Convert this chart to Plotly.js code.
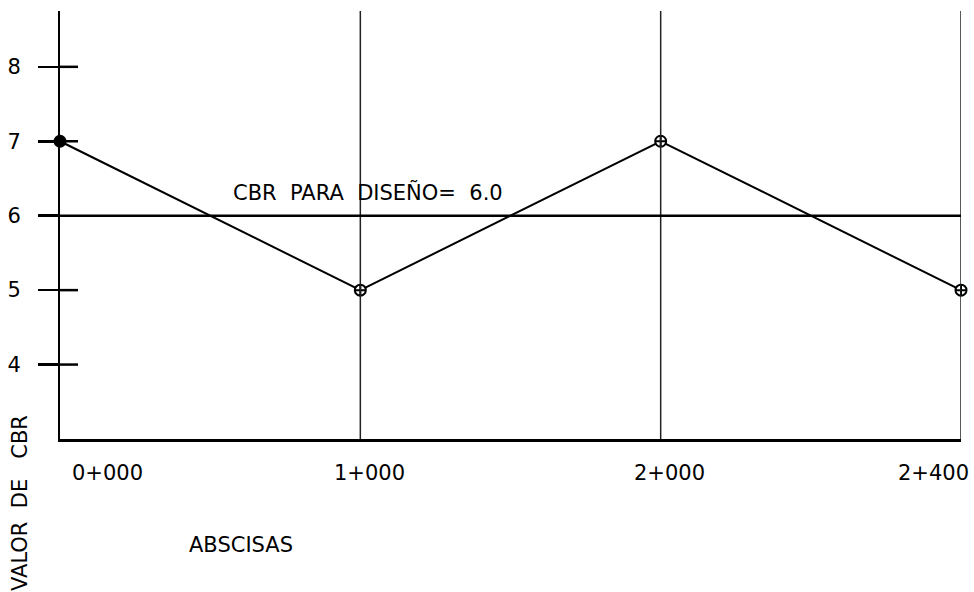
<!DOCTYPE html>
<html>
<head>
<meta charset="utf-8">
<script src="https://cdn.plot.ly/plotly-3.0.1.min.js"></script>
<style>html,body{margin:0;padding:0;background:#fff;}#chart{width:974px;height:592px;}</style>
</head>
<body>
<div id="chart"></div>
<script>
// Data
const abscisas = ["0+000", "1+000", "2+000", "2+400"];
const cbrValues = [7, 5, 7, 5];
const yTicks = [4, 5, 6, 7, 8];
const cbrDiseno = 6.0;
const xTitle = "ABSCISAS";
const yTitle = "VALOR&nbsp;&nbsp;DE&nbsp;&nbsp;&nbsp;CBR";
const designLabel = "CBR&nbsp;&nbsp;PARA&nbsp;&nbsp;DISEÑO=&nbsp;&nbsp;" + cbrDiseno.toFixed(1);

const FONT = "DejaVu Sans, Liberation Sans, Arial, sans-serif";
const TXT = {family: FONT, size: 21, color: "#000"};
const idx = abscisas.map((_, i) => i);
const plotW = 974 - 60 - 13;

const shapes = [];
// vertical lines at each abscissa (except the axis itself)
idx.slice(1).forEach(i => shapes.push({
  type: "line", xref: "x", yref: "paper", x0: i, x1: i, y0: 0, y1: 1,
  line: {color: "#222", width: 1.5}
}));
// inner halves of the crossing tick marks
yTicks.filter(v => v !== cbrDiseno).forEach(v => shapes.push({
  type: "line", xref: "paper", yref: "y", x0: 0, x1: 18 / plotW, y0: v, y1: v,
  line: {color: "#000", width: 2.5}
}));
// design CBR line
shapes.push({
  type: "line", xref: "paper", yref: "y", x0: -20 / plotW, x1: 1, y0: cbrDiseno, y1: cbrDiseno,
  line: {color: "#000", width: 2.5}
});

const annotations = [];
const labelShift = [47, 9, 9, -28];
abscisas.forEach((t, i) => annotations.push({
  x: i, y: 0, xref: "x", yref: "paper", text: t, showarrow: false,
  xanchor: "center", yanchor: "middle", xshift: labelShift[i], yshift: -34,
  font: TXT
}));
annotations.push({
  x: 0, y: 0, xref: "x", yref: "paper", text: xTitle, showarrow: false,
  xanchor: "center", yanchor: "middle", xshift: 181, yshift: -106,
  font: TXT
});
annotations.push({
  x: 0, y: 0, xref: "paper", yref: "paper", text: yTitle, showarrow: false,
  textangle: -90, xanchor: "center", yanchor: "middle", xshift: -40, yshift: -64,
  font: TXT
});
annotations.push({
  x: 0, y: cbrDiseno, xref: "x", yref: "y", text: designLabel, showarrow: false,
  xanchor: "left", yanchor: "middle", xshift: 171, yshift: 24,
  font: TXT
});

const trace = {
  x: idx, y: cbrValues, type: "scatter", mode: "lines+markers",
  line: {color: "#000", width: 2},
  marker: {symbol: "circle-cross", size: 11,
    color: idx.map(i => i === 0 ? "#000" : "#fff"),
    line: {color: "#000", width: 2}},
  cliponaxis: false, hoverinfo: "skip"
};

const layout = {
  width: 974, height: 592,
  margin: {l: 60, r: 13, t: 11, b: 153, pad: 0},
  paper_bgcolor: "#fff", plot_bgcolor: "#fff",
  showlegend: false,
  xaxis: {
    range: [0, 3], showgrid: false, zeroline: false, showticklabels: false,
    ticks: "", showline: true, linecolor: "#000", linewidth: 2.5, fixedrange: true
  },
  yaxis: {
    range: [3, 8.75], tickvals: yTicks, ticktext: yTicks.map(String),
    ticks: "outside", ticklen: 20, tickwidth: 2.5, tickcolor: "#000",
    ticklabelstandoff: 13,
    tickfont: TXT,
    showgrid: false, zeroline: false, showline: true, linecolor: "#000", linewidth: 2,
    fixedrange: true
  },
  shapes: shapes,
  annotations: annotations
};

Plotly.newPlot("chart", [trace], layout, {displayModeBar: false, staticPlot: true});
</script>
</body>
</html>
